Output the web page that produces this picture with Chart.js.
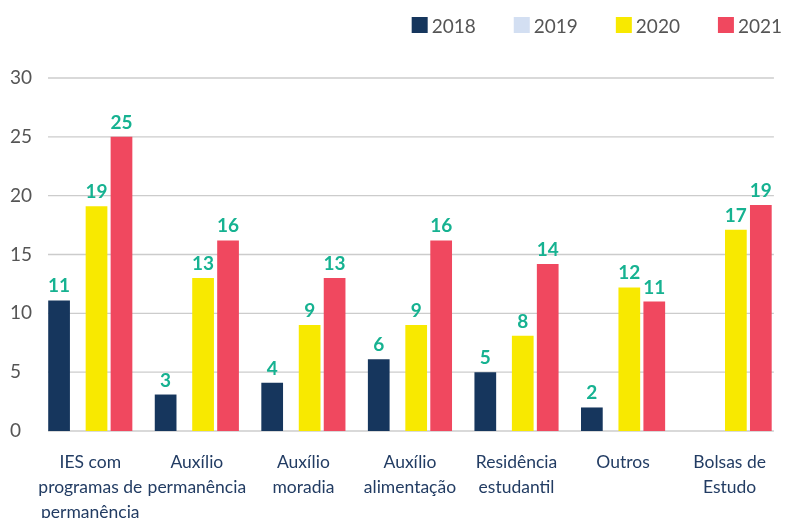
<!DOCTYPE html>
<html>
<head>
<meta charset="utf-8">
<script src="https://cdn.jsdelivr.net/npm/chart.js@4.4.1/dist/chart.umd.min.js"></script>
<style>
  html, body { margin: 0; padding: 0; background: #ffffff; }
  #wrap { width: 785px; height: 518px; }
</style>
</head>
<body>
<div id="wrap"><canvas id="c" width="785" height="518"></canvas></div>
<script>
// ---- data ----
const categories = [
  ["IES com", "programas de", "permanência"],
  ["Auxílio", "permanência"],
  ["Auxílio", "moradia"],
  ["Auxílio", "alimentação"],
  ["Residência", "estudantil"],
  ["Outros"],
  ["Bolsas de", "Estudo"]
];
const seriesNames = ["2018", "2019", "2020", "2021"];
const values2018 = [11.1, 3.1, 4.1, 6.1, 5.0, 2.0, null];
const values2019 = [null, null, null, null, null, null, null];
const values2020 = [19.1, 13.0, 9.0, 9.0, 8.1, 12.2, 17.1];
const values2021 = [25.0, 16.2, 13.0, 16.2, 14.2, 11.0, 19.2];
const yTicks = [0, 5, 10, 15, 20, 25, 30];

// ---- styles ----
const FONT = "Lato, 'Open Sans', sans-serif";
const seriesColors = ["#16365d", "#d3dff2", "#f8e900", "#f0485f"];
const labelColor = "#16b291";
const gridColor = "#cccccc";

const seriesValues = [values2018, values2019, values2020, values2021];
function realSet(i) {
  return { label: seriesNames[i], data: seriesValues[i], backgroundColor: seriesColors[i], borderWidth: 0 };
}
function spacer() {
  return { label: "", data: [], backgroundColor: "rgba(0,0,0,0)", spacer: true };
}
// slot layout: 2018 | 2019 | gap | 2020 | gap | 2021
const datasets = [realSet(0), realSet(1), spacer(), realSet(2), spacer(), realSet(3)];

const gridPlugin = {
  id: "insetGrid",
  beforeDatasetsDraw(chart) {
    const { ctx, chartArea } = chart;
    const y = chart.scales.y;
    ctx.save();
    ctx.strokeStyle = gridColor;
    ctx.lineWidth = 1.4;
    y.ticks.forEach(t => {
      const py = y.getPixelForValue(t.value);
      ctx.beginPath();
      ctx.moveTo(chartArea.left + 11, py);
      ctx.lineTo(chartArea.right - 9, py);
      ctx.stroke();
    });
    ctx.restore();
  }
};

const valueLabelPlugin = {
  id: "valueLabels",
  afterDatasetsDraw(chart) {
    const { ctx } = chart;
    ctx.save();
    ctx.font = "bold 19px " + FONT;
    ctx.fillStyle = labelColor;
    ctx.textAlign = "center";
    ctx.textBaseline = "alphabetic";
    chart.data.datasets.forEach((ds, di) => {
      if (ds.spacer) return;
      const meta = chart.getDatasetMeta(di);
      meta.data.forEach((bar, i) => {
        const v = ds.data[i];
        if (v === null || v === undefined) return;
        ctx.fillText(String(Math.round(v)), bar.x, bar.y - 8);
      });
    });
    ctx.restore();
  }
};

const legendPlugin = {
  id: "topLegend",
  afterDraw(chart) {
    const { ctx } = chart;
    const items = chart.data.datasets.filter(d => !d.spacer);
    ctx.save();
    ctx.font = "19px " + FONT;
    const box = 16, gapText = 4, gapItem = 38;
    const widths = items.map(d => box + gapText + ctx.measureText(d.label).width);
    const total = widths.reduce((a, b) => a + b, 0) + gapItem * (items.length - 1);
    let x = 782 - total;
    items.forEach((d, i) => {
      ctx.fillStyle = d.backgroundColor;
      ctx.fillRect(x, 17, box, box);
      ctx.fillStyle = "#555555";
      ctx.textAlign = "left";
      ctx.textBaseline = "alphabetic";
      ctx.fillText(d.label, x + box + gapText, 32.5);
      x += widths[i] + gapItem;
    });
    ctx.restore();
  }
};

new Chart(document.getElementById("c"), {
  type: "bar",
  data: { labels: categories, datasets: datasets },
  options: {
    responsive: false,
    animation: false,
    layout: { padding: { left: 10, right: 1, top: 78, bottom: 0 } },
    datasets: {
      bar: { categoryPercentage: 0.7029, barPercentage: 1.74 }
    },
    plugins: {
      legend: { display: false },
      tooltip: { enabled: false }
    },
    scales: {
      x: {
        type: "category",
        grid: { display: false, drawTicks: false },
        border: { display: false },
        ticks: {
          color: "#223c63",
          font: { family: FONT, size: 17.5, lineHeight: 1.43 },
          padding: 19,
          maxRotation: 0,
          autoSkip: false
        },
        afterFit(scale) { scale.height = 87; }
      },
      y: {
        min: 0,
        max: 30,
        afterBuildTicks(scale) { scale.ticks = yTicks.map(v => ({ value: v })); },
        grid: { display: false, drawTicks: false },
        border: { display: false },
        ticks: {
          color: "#555555",
          crossAlign: "far",
          font: { family: FONT, size: 19 },
          padding: 0
        },
        afterFit(scale) { scale.width = 27; }
      }
    }
  },
  plugins: [gridPlugin, valueLabelPlugin, legendPlugin]
});
</script>
</body>
</html>
